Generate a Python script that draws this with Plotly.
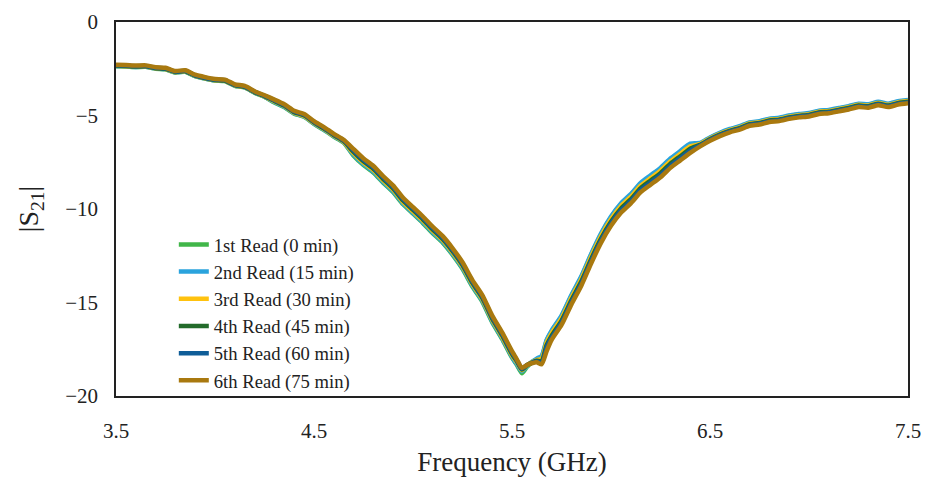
import plotly.graph_objects as go

# Frequency grid (GHz)
freq_ghz = [3.50, 3.55, 3.60, 3.65, 3.70, 3.75, 3.80, 3.85, 3.90, 3.95,
            4.00, 4.05, 4.10, 4.15, 4.20, 4.25, 4.30, 4.35, 4.40, 4.45,
            4.50, 4.55, 4.60, 4.65, 4.70, 4.75, 4.80, 4.85, 4.90, 4.95,
            5.00, 5.05, 5.10, 5.15, 5.20, 5.25, 5.30, 5.35, 5.40, 5.45,
            5.50, 5.525, 5.55, 5.575, 5.60, 5.625, 5.65, 5.675, 5.70, 5.75,
            5.80, 5.85, 5.90, 5.95, 6.00, 6.05, 6.10, 6.15, 6.20, 6.25,
            6.30, 6.35, 6.40, 6.45, 6.50, 6.55, 6.60, 6.65, 6.70, 6.75,
            6.80, 6.85, 6.90, 6.95, 7.00, 7.05, 7.10, 7.15, 7.20, 7.25,
            7.30, 7.35, 7.40, 7.45, 7.50]

read1_0min = [-2.36, -2.38, -2.41, -2.40, -2.50, -2.53, -2.70, -2.66, -2.90, -3.03,
              -3.13, -3.16, -3.41, -3.50, -3.78, -4.00,
              -4.30, -4.55, -4.90, -5.07, -5.45, -5.77, -6.13, -6.45,
              -7.15, -7.65, -8.05, -8.60, -9.10, -9.75, -10.25, -10.75, -11.30, -11.80,
              -12.45, -13.20, -14.15, -14.95, -16.05, -16.95, -17.95,
              -18.35, -18.78, -18.45, -18.20, -18.05, -17.90,
              -17.05, -16.55, -15.75, -14.65, -13.65, -12.45, -11.35, -10.45, -9.75, -9.25,
              -8.65, -8.25, -7.85, -7.35, -6.95, -6.55,
              -6.50, -6.20, -5.95, -5.75, -5.60, -5.40, -5.33, -5.20, -5.15, -5.03, -4.95,
              -4.90, -4.77, -4.73, -4.63, -4.53, -4.40, -4.43, -4.30, -4.40, -4.27, -4.20]

read2_15min = [-2.35, -2.37, -2.40, -2.39, -2.49, -2.52, -2.69, -2.65, -2.89, -3.02,
               -3.12, -3.15, -3.40, -3.49, -3.77, -3.99,
               -4.28, -4.53, -4.88, -5.05, -5.43, -5.75, -6.11, -6.43,
               -7.10, -7.60, -8.00, -8.55, -9.05, -9.70, -10.20, -10.70, -11.25, -11.75,
               -12.40, -13.15, -14.10, -14.90, -16.00, -16.90, -17.90,
               -18.30, -18.68, -18.40, -18.17, -18.00, -17.85,
               -17.00, -16.50, -15.70, -14.60, -13.60, -12.40, -11.30, -10.40, -9.70, -9.20,
               -8.60, -8.20, -7.80, -7.30, -6.90, -6.50,
               -6.47, -6.17, -5.92, -5.72, -5.57, -5.37, -5.30, -5.17, -5.12, -5.00, -4.92,
               -4.87, -4.74, -4.70, -4.60, -4.50, -4.37, -4.40, -4.27, -4.37, -4.24, -4.17]

read3_30min = [-2.34, -2.36, -2.39, -2.38, -2.48, -2.51, -2.68, -2.64, -2.88, -3.01,
               -3.11, -3.14, -3.39, -3.48, -3.76, -3.98,
               -4.25, -4.50, -4.85, -5.02, -5.40, -5.72, -6.08, -6.40,
               -7.02, -7.52, -7.92, -8.47, -8.97, -9.62, -10.12, -10.62, -11.17, -11.67,
               -12.32, -13.07, -14.02, -14.82, -15.92, -16.82, -17.82,
               -18.20, -18.62, -18.37, -18.20, -18.08, -18.00,
               -17.15, -16.65, -15.85, -14.75, -13.75, -12.55, -11.45, -10.55, -9.85, -9.35,
               -8.75, -8.35, -7.95, -7.45, -7.05, -6.65,
               -6.53, -6.23, -5.98, -5.78, -5.63, -5.43, -5.36, -5.23, -5.18, -5.06, -4.98,
               -4.93, -4.80, -4.76, -4.66, -4.56, -4.43, -4.46, -4.33, -4.43, -4.30, -4.23]

read4_45min = [-2.33, -2.35, -2.38, -2.37, -2.47, -2.50, -2.67, -2.63, -2.87, -3.00,
               -3.10, -3.13, -3.38, -3.47, -3.75, -3.97,
               -4.22, -4.47, -4.82, -4.99, -5.37, -5.69, -6.05, -6.37,
               -6.95, -7.45, -7.85, -8.40, -8.90, -9.55, -10.05, -10.55, -11.10, -11.60,
               -12.25, -13.00, -13.95, -14.75, -15.85, -16.75, -17.75,
               -18.15, -18.58, -18.35, -18.22, -18.12, -18.13,
               -17.28, -16.78, -15.98, -14.88, -13.88, -12.68, -11.58, -10.68, -9.98, -9.48,
               -8.88, -8.48, -8.08, -7.58, -7.18, -6.78,
               -6.57, -6.27, -6.02, -5.82, -5.67, -5.47, -5.40, -5.27, -5.22, -5.10, -5.02,
               -4.97, -4.84, -4.80, -4.70, -4.60, -4.47, -4.50, -4.37, -4.47, -4.34, -4.27]

read5_60min = [-2.31, -2.33, -2.36, -2.35, -2.45, -2.48, -2.65, -2.61, -2.85, -2.98,
               -3.08, -3.11, -3.36, -3.45, -3.73, -3.95,
               -4.19, -4.44, -4.79, -4.96, -5.34, -5.66, -6.02, -6.34,
               -6.88, -7.38, -7.78, -8.33, -8.83, -9.48, -9.98, -10.48, -11.03, -11.53,
               -12.18, -12.93, -13.88, -14.68, -15.78, -16.68, -17.68,
               -18.10, -18.54, -18.35, -18.23, -18.16, -18.23,
               -17.38, -16.88, -16.08, -14.98, -13.98, -12.78, -11.68, -10.78, -10.08, -9.58,
               -8.98, -8.58, -8.18, -7.68, -7.28, -6.88,
               -6.60, -6.30, -6.05, -5.85, -5.70, -5.50, -5.43, -5.30, -5.25, -5.13, -5.05,
               -5.00, -4.87, -4.83, -4.73, -4.63, -4.50, -4.53, -4.40, -4.50, -4.37, -4.30]

read6_75min = [-2.28, -2.30, -2.33, -2.32, -2.42, -2.45, -2.62, -2.58, -2.82, -2.95,
               -3.05, -3.08, -3.33, -3.42, -3.70, -3.92,
               -4.15, -4.40, -4.75, -4.92, -5.30, -5.62, -5.98, -6.30,
               -6.80, -7.30, -7.70, -8.25, -8.75, -9.40, -9.90, -10.40, -10.95, -11.45,
               -12.10, -12.85, -13.80, -14.60, -15.70, -16.60, -17.60,
               -18.05, -18.50, -18.35, -18.25, -18.20, -18.30,
               -17.60, -17.00, -16.20, -15.10, -14.10, -12.90, -11.80, -10.90, -10.20, -9.70,
               -9.10, -8.70, -8.30, -7.80, -7.40, -7.00,
               -6.65, -6.35, -6.10, -5.90, -5.75, -5.55, -5.48, -5.35, -5.30, -5.18, -5.10,
               -5.05, -4.92, -4.88, -4.78, -4.68, -4.55, -4.58, -4.45, -4.55, -4.42, -4.35]

series_names = ["1st Read (0 min)", "2nd Read (15 min)", "3rd Read (30 min)",
                "4th Read (45 min)", "5th Read (60 min)", "6th Read (75 min)"]
series_values = [read1_0min, read2_15min, read3_30min, read4_45min, read5_60min, read6_75min]
series_colors = ["#41B649", "#2AA3DD", "#FFC20E", "#236B2B", "#0F5D98", "#A9790F"]

x_tick_vals = [3.5, 4.5, 5.5, 6.5, 7.5]
x_tick_text = ["3.5", "4.5", "5.5", "6.5", "7.5"]
y_tick_vals = [0, -5, -10, -15, -20]
y_tick_text = ["0", "\u22125", "\u221210", "\u221215", "\u221220"]

FONT = "Liberation Serif, DejaVu Serif, serif"
INK = "#222222"

fig = go.Figure()
for name, vals, col in zip(series_names, series_values, series_colors):
    fig.add_trace(go.Scatter(x=freq_ghz, y=vals, mode="lines", name=name,
                             line=dict(color=col, width=4.5, shape="spline", smoothing=0.6)))

# page body has an 8px default margin, so the figure is sized/margined to compensate
fig.update_layout(
    width=921, height=471,
    margin=dict(l=108, r=21, t=14, b=83),
    paper_bgcolor="white", plot_bgcolor="white",
    font=dict(family=FONT, color=INK),
    showlegend=True,
    legend=dict(x=0.073, y=0.455, xanchor="left", yanchor="top",
                bgcolor="rgba(0,0,0,0)", font=dict(size=18.6, family=FONT, color=INK),
                tracegroupgap=0, itemwidth=30),
    xaxis=dict(range=[3.5, 7.5], tickvals=x_tick_vals, ticktext=x_tick_text,
               showgrid=False, zeroline=False, showline=True, linecolor=INK,
               linewidth=2, mirror=True, ticks="outside", ticklen=15, automargin=False,
               tickcolor="rgba(0,0,0,0)", tickfont=dict(size=21, family=FONT, color=INK),
               title=dict(text="Frequency (GHz)", font=dict(size=27, family=FONT, color=INK),
                          standoff=10)),
    yaxis=dict(range=[-20, 0], tickvals=y_tick_vals, ticktext=y_tick_text,
               showgrid=False, zeroline=False, showline=True, linecolor=INK,
               linewidth=1.5, mirror=True, ticks="outside", ticklen=12, automargin=False,
               tickcolor="rgba(0,0,0,0)", tickfont=dict(size=21, family=FONT, color=INK),
               title=dict(text="|S<sub>21</sub>|", font=dict(size=28, family=FONT, color=INK),
                          standoff=18)),
)

fig.write_html("out.html")
